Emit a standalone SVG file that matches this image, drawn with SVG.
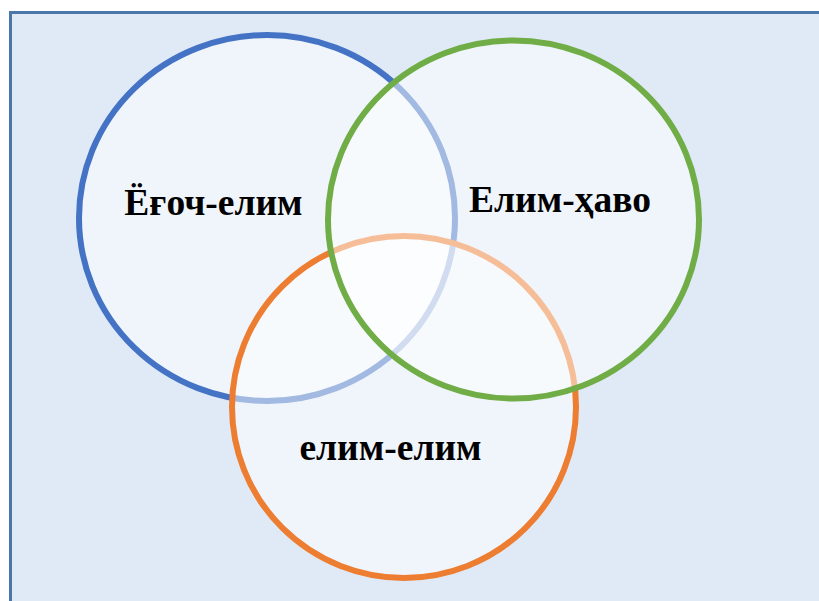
<svg xmlns="http://www.w3.org/2000/svg" width="819" height="601" viewBox="0 0 819 601">
  <style>
    .frame { fill: #dfeaf6; stroke: #4a76a8; stroke-width: 3; }
    .set { fill: #ffffff; fill-opacity: 0.5; stroke-width: 6; }
    .label { font-family: "Liberation Serif", "DejaVu Serif", serif; font-weight: 700; font-size: 37.5px; fill: #000000; text-anchor: middle; }
  </style>
  <rect width="819" height="601" fill="#ffffff"/>
  <rect class="frame" x="10.5" y="12.5" width="820" height="600"/>
  <g id="set-wood">
    <ellipse class="set" cx="267" cy="218" rx="188" ry="183" stroke="#4472c4"/>
  </g>
  <g id="set-glue">
    <ellipse class="set" cx="404" cy="407" rx="172" ry="171" stroke="#ed7d31"/>
  </g>
  <g id="set-air">
    <ellipse class="set" cx="513.5" cy="219.5" rx="185.5" ry="179" stroke="#70ad47"/>
  </g>
  <g id="connectors"></g>
  <g id="labels">
    <text class="label" x="213.5" y="215">Ёғоч-елим</text>
    <text class="label" x="560" y="212">Елим-ҳаво</text>
    <text class="label" x="390.5" y="460">елим-елим</text>
  </g>
</svg>
